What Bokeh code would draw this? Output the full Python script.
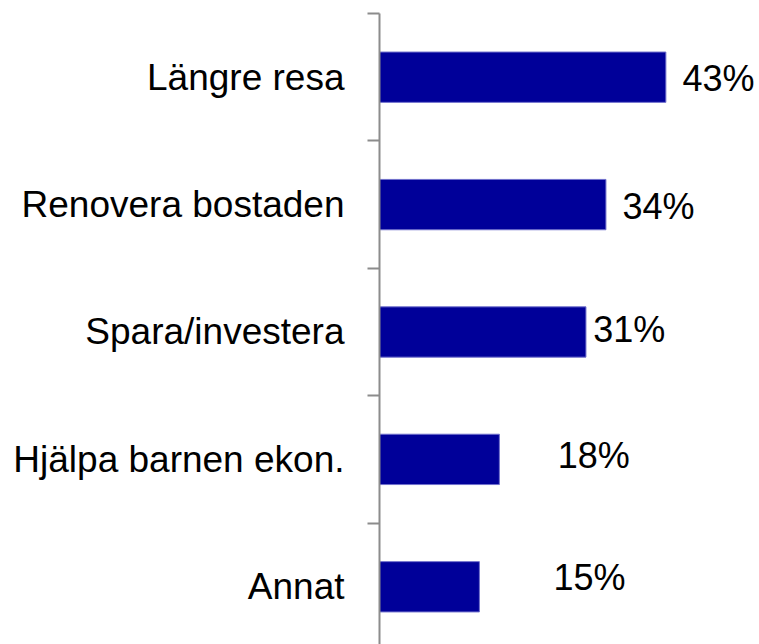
from bokeh.plotting import figure
from bokeh.models import ColumnDataSource, FixedTicker, Range1d
from bokeh.embed import file_html
from bokeh.resources import INLINE
from bokeh.core.properties import value

# ---- data ----
categories = ["Längre resa", "Renovera bostaden", "Spara/investera",
              "Hjälpa barnen ekon.", "Annat"]
shares = [43, 34, 31, 18, 15]
value_labels = ["43%", "34%", "31%", "18%", "15%"]

# ---- label placement styles (pixel offsets from bar end / bar centre) ----
label_dx = [16.6, 16.6, 7.3, 58.3, 74]
label_dy = [1.3, 1.8, -2.0, -4.0, -9.4]

n = len(categories)
ypos = [n - i - 0.5 for i in range(n)]

src = ColumnDataSource(dict(y=ypos, share=shares, lab=value_labels,
                            dx=label_dx, dy=label_dy))

p = figure(width=759, height=644, output_backend="svg", toolbar_location=None,
           x_range=Range1d(0, 57.06), y_range=Range1d(0.047, 5))
p.min_border_left = 379
p.min_border_right = 0
p.min_border_top = 13
p.min_border_bottom = 0
p.outline_line_color = None
p.xgrid.visible = False
p.ygrid.visible = False
p.xaxis.visible = False
p.background_fill_color = "white"
p.border_fill_color = "white"

p.hbar(y="y", left=0, right="share", height=0.395, source=src,
       fill_color="#000099", line_color="#7070cc", line_width=1)

p.text(x="share", y="y", text="lab", source=src, x_offset="dx", y_offset="dy",
       text_font=value("Liberation Sans"), text_font_size="36px",
       text_color="black", text_align="left", text_baseline="middle")

ax = p.yaxis[0]
ax.ticker = FixedTicker(ticks=ypos, minor_ticks=list(range(n + 1)))
ax.major_label_overrides = {y: c for y, c in zip(ypos, categories)}
ax.major_tick_line_color = None
ax.major_tick_out = 0
ax.major_tick_in = 0
ax.minor_tick_out = 12
ax.minor_tick_in = 0
ax.minor_tick_line_color = "#8c8c8c"
ax.minor_tick_line_width = 2
ax.axis_line_color = "#8c8c8c"
ax.axis_line_width = 2
ax.major_label_text_font = "Liberation Sans"
ax.major_label_text_font_size = "37px"
ax.major_label_text_color = "black"
ax.major_label_standoff = 23

open("out.html", "w").write(file_html(p, INLINE))
